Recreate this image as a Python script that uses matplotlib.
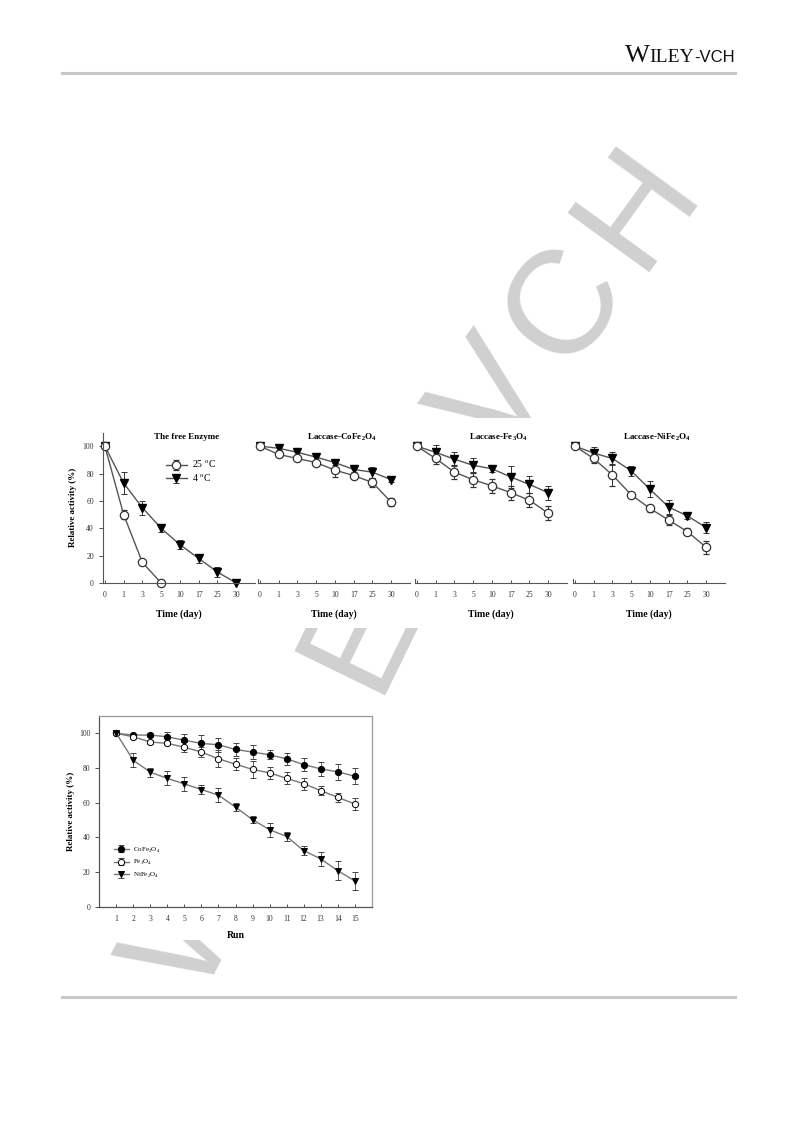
import numpy as np
import matplotlib
matplotlib.use('Agg')
import matplotlib.pyplot as plt
from matplotlib.patches import Rectangle
from matplotlib.lines import Line2D

plt.rcParams['font.family'] = ['Liberation Serif', 'DejaVu Serif']
plt.rcParams['mathtext.fontset'] = 'custom'
plt.rcParams['mathtext.rm'] = 'Liberation Serif'
plt.rcParams['mathtext.bf'] = 'Liberation Serif:bold'

# ---- data: storage stability (figure 1) ----
days = ['0', '1', '3', '5', '10', '17', '25', '30']
panel_titles = ['The free Enzyme', 'Laccase-CoFe$_\\mathbf{2}$O$_\\mathbf{4}$',
                'Laccase-Fe$_\\mathbf{3}$O$_\\mathbf{4}$', 'Laccase-NiFe$_\\mathbf{2}$O$_\\mathbf{4}$']

free_25 = [100, 50, 15, 0]
free_25_err = [0, 3, 2, 0]
free_4 = [100, 73, 55, 40, 28, 18, 8, 0]
free_4_err = [0, 8, 5, 2.5, 3.5, 3.5, 3.5, 0]

co_25 = [100, 94, 91, 88, 82.5, 78.5, 73.5, 59]
co_25_err = [0, 2, 2, 2, 5, 2, 3, 3]
co_4 = [100, 98.5, 95.5, 92, 88, 83, 81, 75.5]
co_4_err = [0, 1.5, 2, 3, 2, 2, 4, 2]

fe_25 = [100, 91, 81, 75.5, 71, 66, 60.5, 51]
fe_25_err = [0, 4, 5, 5, 5, 5, 5, 5]
fe_4 = [100, 95.5, 90.5, 86, 83.5, 77.5, 72, 66]
fe_4_err = [0, 5, 5, 5, 2.5, 8, 6, 5]

ni_25 = [100, 91, 79, 64.5, 54.5, 46, 37.5, 26]
ni_25_err = [0, 3, 8, 1.5, 2.5, 3.5, 2.5, 5]
ni_4 = [100, 95, 91, 82, 68.5, 55.5, 49, 40.5]
ni_4_err = [0, 4.5, 5, 3.5, 6, 5, 2.5, 4]

# ---- data: reusability (figure 2) ----
runs = np.arange(1, 16)
reuse_co = [100, 99, 99, 98, 96, 94.2, 93.4, 90.7, 89.2, 87.6, 85.3, 82, 79.5, 77.8, 75.3]
reuse_co_err = [0, 0.5, 1, 2.5, 3.5, 5, 4, 3.5, 4, 2.5, 3.5, 3.5, 4, 4.5, 4.5]
reuse_fe = [100, 98, 95, 94.2, 92, 89.2, 85.3, 82.2, 79.2, 77.2, 74, 71, 67, 63.1, 59.3]
reuse_fe_err = [0, 1.5, 1, 1, 3, 3, 5, 3.5, 5, 3.5, 3.5, 3.5, 2.5, 2.5, 3.5]
reuse_ni = [100, 84.4, 77.6, 74, 70.8, 67.6, 64.3, 57.5, 50.2, 44.4, 40.5, 32.4, 27.6, 20.8, 14.9]
reuse_ni_err = [0, 4, 2.5, 4, 4, 2.5, 4, 2.5, 2, 4, 2.5, 2.5, 4, 5.5, 5]

W, H = 793, 1121
fig = plt.figure(figsize=(W / 100, H / 100), dpi=100)
fig.patch.set_facecolor('white')

def fx(px):
    return px / W

def fy(py):
    return 1 - py / H

line_c = '#555555'
grey = '#c8c8c8'
fig.canvas.draw()
r = fig.canvas.get_renderer()

# watermark: letters laid out one by one, walking back from the top-right end
wm_text = 'WILEY-VCH'
wm_angles = [63, 58, 58, 64, 62, 58, 54, 54, 54]
wm_gaps = [0, 34, 28, 28, 6, 6, 6, 16, 16]   # space before each letter
wm_size = 106
x, y = 700, 186
for ch, a, g in zip(wm_text[::-1], wm_angles[::-1], wm_gaps[::-1]):
    tmp = fig.text(0, 0, ch, fontsize=wm_size, family='Liberation Sans')
    w = tmp.get_window_extent(r).width
    tmp.remove()
    t = np.deg2rad(a)
    x -= w * np.cos(t)
    y += w * np.sin(t)
    fig.text(fx(x), fy(y), ch, rotation=a, rotation_mode='anchor',
             ha='left', va='baseline', fontsize=wm_size, color='#d0d0d0',
             family='Liberation Sans', zorder=-3)
    x -= g * np.cos(t)
    y += g * np.sin(t)
for (x0, y0, x1, y1) in [(88, 418, 730, 628), (60, 712, 390, 940)]:
    fig.add_artist(Rectangle((fx(x0), fy(y1)), fx(x1) - fx(x0), fy(y0) - fy(y1),
                             transform=fig.transFigure, facecolor='white',
                             edgecolor='none', zorder=-2))

# header / footer rules
fig.add_artist(Line2D([fx(62), fx(735)], [fy(73), fy(73)], color=grey, lw=2.2))
fig.add_artist(Line2D([fx(62), fx(735)], [fy(997), fy(997)], color=grey, lw=2.2))

# header logo
t1 = fig.text(fx(735), fy(62), '-VCH', ha='right', va='baseline', fontsize=12,
              family='Liberation Sans', color='#111111')
x_left = t1.get_window_extent(r).x0 / W
t2 = fig.text(x_left, fy(62), 'ILEY', ha='right', va='baseline', fontsize=14,
              family='Liberation Serif', color='#111111')
x_left = t2.get_window_extent(r).x0 / W
fig.text(x_left, fy(62), 'W', ha='right', va='baseline', fontsize=19,
         family='Liberation Serif', color='#111111')

# ---- figure 1 ----
lefts = [103, 258, 415, 573]
series = [(free_25, free_25_err, free_4, free_4_err),
          (co_25, co_25_err, co_4, co_4_err),
          (fe_25, fe_25_err, fe_4, fe_4_err),
          (ni_25, ni_25_err, ni_4, ni_4_err)]
idx = np.arange(len(days))
for i, (lx, (s25, e25, s4, e4)) in enumerate(zip(lefts, series)):
    ax = fig.add_axes([fx(lx), fy(583), fx(152), 150.5 / H])
    ax.set_facecolor('none')
    ax.errorbar(idx, s4, yerr=e4, color=line_c, lw=1.0, marker='v', ms=6,
                mfc='black', mec='black', ecolor='#333333', elinewidth=0.7,
                capsize=2.2, capthick=0.7, clip_on=False, label='4 $^{\\rm o}$C')
    ax.errorbar(idx[:len(s25)], s25, yerr=e25, color=line_c, lw=1.0, marker='o', ms=6,
                mfc='white', mec='#333333', mew=0.9, ecolor='#333333', elinewidth=0.7,
                capsize=2.2, capthick=0.7, clip_on=False, label='25 $^{\\rm o}$C')
    ax.set_xlim(-0.1, 8.0)
    ax.set_ylim(0, 110)
    ax.set_xticks(idx)
    ax.set_xticklabels(days)
    ax.tick_params(axis='x', direction='in', length=2.5, width=0.6, labelsize=5.5,
                   pad=6, colors='#333333')
    for s in ['top', 'right']:
        ax.spines[s].set_visible(False)
    ax.spines['bottom'].set_color('#555555')
    ax.spines['bottom'].set_linewidth(0.8)
    ax.spines['left'].set_color('#555555')
    ax.spines['left'].set_linewidth(0.8)
    if i == 0:
        ax.set_yticks([0, 20, 40, 60, 80, 100])
        ax.tick_params(axis='y', direction='out', length=3, width=0.6, labelsize=5.5,
                       colors='#333333')
        ax.set_ylabel('Relative activity (%)', fontsize=6.5, fontweight='bold', labelpad=4)
        h, l = ax.get_legend_handles_labels()
        ax.legend(h[::-1], l[::-1], loc='upper left', bbox_to_anchor=(0.38, 0.86),
                  frameon=False, fontsize=7, handlelength=2.2, labelspacing=0.2,
                  handletextpad=0.5, borderpad=0)
    else:
        ax.set_yticks([])
        ax.spines['left'].set_bounds(0, 3)
    ax.set_xlabel('Time (day)', fontsize=7, fontweight='bold', labelpad=7)
    ax.text(0.55, 0.97, panel_titles[i], transform=ax.transAxes, ha='center',
            va='center', fontsize=6.5, fontweight='bold')

# ---- figure 2 ----
ax2 = fig.add_axes([fx(99.3), fy(906.7), fx(272.4), 190.7 / H])
ax2.set_facecolor('none')
for vals, errs, mk, mfc, lab in [(reuse_co, reuse_co_err, 'o', 'black', 'CoFe$_2$O$_4$'),
                                 (reuse_fe, reuse_fe_err, 'o', 'white', 'Fe$_3$O$_4$'),
                                 (reuse_ni, reuse_ni_err, 'v', 'black', 'NiFe$_2$O$_4$')]:
    ax2.errorbar(runs, vals, yerr=errs, color='#777777', lw=1.0, marker=mk, ms=4.5,
                 mfc=mfc, mec='black', mew=0.7, ecolor='#444444', elinewidth=0.6,
                 capsize=2.2, capthick=0.6, label=lab)
ax2.set_xlim(0, 16)
ax2.set_ylim(0, 110)
ax2.set_xticks(runs)
ax2.set_yticks([0, 20, 40, 60, 80, 100])
ax2.tick_params(axis='x', direction='in', length=2.5, width=0.6, labelsize=5.5, pad=6,
                colors='#333333')
ax2.tick_params(axis='y', direction='out', length=3, width=0.6, labelsize=5.5,
                colors='#333333')
for s in ax2.spines.values():
    s.set_color('#999999')
    s.set_linewidth(0.9)
ax2.spines['left'].set_color('#555555')
ax2.spines['bottom'].set_color('#555555')
ax2.set_xlabel('Run', fontsize=7, fontweight='bold', labelpad=6)
ax2.set_ylabel('Relative activity (%)', fontsize=6.5, fontweight='bold', labelpad=3)
ax2.legend(loc='upper left', bbox_to_anchor=(0.04, 0.34), frameon=False, fontsize=5,
           handlelength=2.2, labelspacing=0.5, handletextpad=0.6, borderpad=0)

fig.savefig('out.png', dpi=100, facecolor='white')
